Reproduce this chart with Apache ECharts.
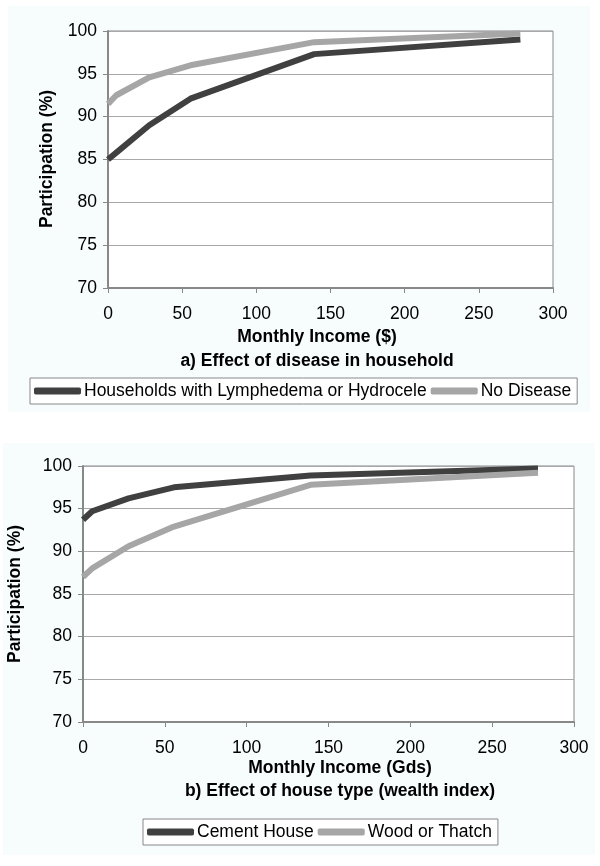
<!DOCTYPE html>
<html>
<head>
<meta charset="utf-8">
<script src="https://cdn.jsdelivr.net/npm/echarts@6/dist/echarts.min.js"></script>
<style>
html,body{margin:0;padding:0;background:#ffffff;}
#chart{width:600px;height:866px;}
</style>
</head>
<body>
<div id="chart"></div>
<script>
// Shared income values (x)
var incomeX = [0, 5.6, 27.8, 55.6, 139, 278];

// Panel a) disease in household
var namesA = ['Households with Lymphedema or Hydrocele', 'No Disease'];
var diseaseVals = [85.0, 85.8, 89.0, 92.1, 97.3, 99.0];
var noDiseaseVals = [91.5, 92.5, 94.6, 96.0, 98.7, 99.7];

// Panel b) house type
var namesB = ['Cement House', 'Wood or Thatch'];
var cementVals = [93.7, 94.7, 96.2, 97.5, 98.9, 99.7];
var woodVals = [87.0, 88.0, 90.6, 92.9, 97.8, 99.2];

// Axis texts
var xTitleA = 'Monthly Income ($)';
var subTitleA = 'a) Effect of disease in household';
var xTitleB = 'Monthly Income (Gds)';
var subTitleB = 'b) Effect of house type (wealth index)';
var yTitle = 'Participation (%)';

function pairs(xs, ys) { return xs.map(function (x, i) { return [x, ys[i]]; }); }

var FONT = '"Liberation Sans", Arial, sans-serif';
var FS = 17.5;
var DARK = '#404040', LIGHT = '#a6a6a6';

function xAxisCfg(gi) {
  return {
    type: 'value', gridIndex: gi, min: 0, max: 300, interval: 50,
    axisLine: { show: true, lineStyle: { color: '#888', width: 2 } },
    axisTick: { show: true, length: 5, lineStyle: { color: '#888' } },
    axisLabel: { color: '#000', fontSize: FS, fontFamily: FONT, margin: 17 },
    splitLine: { show: false }
  };
}
function yAxisCfg(gi) {
  return {
    type: 'value', gridIndex: gi, min: 70, max: 100, interval: 5,
    axisLine: { show: true, lineStyle: { color: '#888', width: 2 } },
    axisTick: { show: true, length: 5, lineStyle: { color: '#888' } },
    axisLabel: { color: '#000', fontSize: FS, fontFamily: FONT, margin: 11 },
    splitLine: { show: true, lineStyle: { color: '#a8a8a8', width: 1 } }
  };
}
function lineSeries(name, data, color, gi) {
  return {
    name: name, type: 'line', xAxisIndex: gi, yAxisIndex: gi,
    data: data, showSymbol: false, symbol: 'none', animation: false,
    lineStyle: { color: color, width: 6, cap: 'butt', join: 'round' },
    itemStyle: { color: color }
  };
}
function legendCfg(names, left, top) {
  return {
    data: names, left: left, top: top, orient: 'horizontal',
    icon: 'roundRect', itemWidth: 47, itemHeight: 7, itemGap: 4,
    borderColor: '#888', borderWidth: 1, padding: [4, 6, 4, 4],
    backgroundColor: '#fff',
    textStyle: { color: '#000', fontSize: FS, fontFamily: FONT, padding: [0, 0, 0, -2] },
    selectedMode: false
  };
}
function txt(x, y, text) {
  return {
    type: 'text', x: x, y: y, z: 10, silent: true,
    style: { text: text, fill: '#000', font: 'bold ' + FS + 'px ' + FONT, textAlign: 'center', textVerticalAlign: 'middle' }
  };
}
function rot(x, y, text) {
  return {
    type: 'text', x: x, y: y, rotation: Math.PI / 2, z: 10, silent: true,
    style: { text: text, fill: '#000', font: 'bold ' + FS + 'px ' + FONT, textAlign: 'center', textVerticalAlign: 'middle' }
  };
}

var chart = echarts.init(document.getElementById('chart'), null, { renderer: 'canvas' });
chart.setOption({
  animation: false,
  backgroundColor: '#ffffff',
  grid: [
    { left: 108, top: 31, width: 445, height: 257, show: true, backgroundColor: '#ffffff', borderColor: '#888', borderWidth: 1, containLabel: false },
    { left: 83, top: 466, width: 491, height: 256, show: true, backgroundColor: '#ffffff', borderColor: '#888', borderWidth: 1, containLabel: false }
  ],
  xAxis: [xAxisCfg(0), xAxisCfg(1)],
  yAxis: [yAxisCfg(0), yAxisCfg(1)],
  legend: [legendCfg(namesA, 30, 378), legendCfg(namesB, 143, 819)],
  series: [
    lineSeries(namesA[0], pairs(incomeX, diseaseVals), DARK, 0),
    lineSeries(namesA[1], pairs(incomeX, noDiseaseVals), LIGHT, 0),
    lineSeries(namesB[0], pairs(incomeX, cementVals), DARK, 1),
    lineSeries(namesB[1], pairs(incomeX, woodVals), LIGHT, 1)
  ],
  graphic: [
    { type: 'rect', z: -100, silent: true, shape: { x: 8, y: 6, width: 582, height: 406 }, style: { fill: '#f7fcfd' } },
    { type: 'rect', z: -100, silent: true, shape: { x: 3, y: 443, width: 592, height: 412 }, style: { fill: '#f7fcfd' } },
    rot(47, 159, yTitle),
    rot(15, 594, yTitle),
    txt(317, 337, xTitleA),
    txt(317, 361, subTitleA),
    txt(340, 768, xTitleB),
    txt(340, 791, subTitleB)
  ]
});
</script>
</body>
</html>
